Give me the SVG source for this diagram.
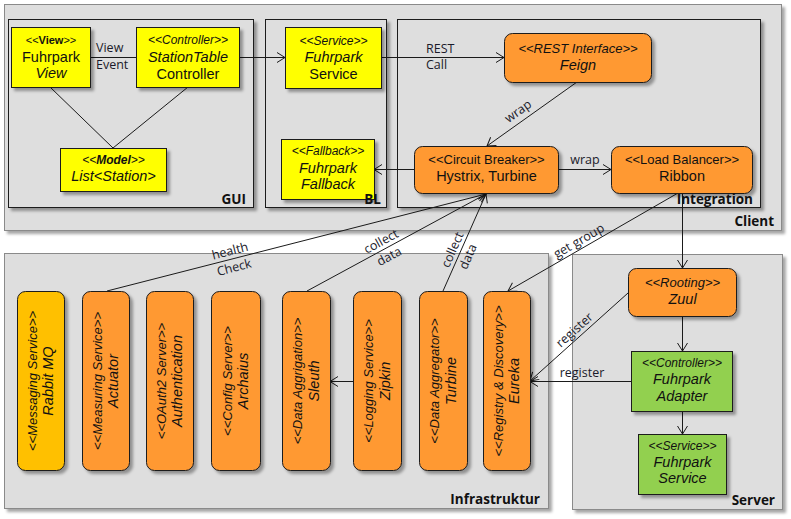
<svg xmlns="http://www.w3.org/2000/svg" width="791" height="519" viewBox="0 0 791 519">
<defs>
<filter id="sh" x="-10%" y="-10%" width="130%" height="130%">
<feDropShadow dx="3" dy="3" stdDeviation="1.5" flood-color="#000" flood-opacity="0.35"/>
</filter>
<marker id="arr" markerWidth="12" markerHeight="12" refX="9" refY="6" orient="auto" markerUnits="userSpaceOnUse">
<path d="M1,1 L9,6 L1,11" fill="none" stroke="#1a1a1a" stroke-width="1"/>
</marker>
<style>
.cont{fill:#dedede;stroke:#8a8a8a;stroke-width:1;filter:url(#sh)}
.inner{fill:#dedede;stroke:#1a1a1a;stroke-width:1;filter:url(#sh)}
.y{fill:#ffff00;stroke:#1a1a1a;stroke-width:1;filter:url(#sh)}
.o{fill:#ff9933;stroke:#1a1a1a;stroke-width:1;filter:url(#sh)}
.gd{fill:#ffc000;stroke:#1a1a1a;stroke-width:1;filter:url(#sh)}
.g{fill:#92d050;stroke:#1a1a1a;stroke-width:1;filter:url(#sh)}
text{font-family:"Liberation Sans",Arial,sans-serif;fill:#111;text-anchor:middle}
.st{font-size:12px;font-style:italic}
.st13{font-size:13px}
.nm{font-size:14.5px}
.i{font-style:italic}
.lbl{font-family:"Open Sans",sans-serif;font-size:12.5px;fill:#1a1a2a}
.ct{font-family:"Open Sans",sans-serif;font-size:13.5px;font-weight:bold;text-anchor:end}
.ln{stroke:#1a1a1a;stroke-width:1;fill:none}
.a{marker-end:url(#arr)}
</style>
</defs>

<!-- containers -->
<g id="client">
<rect class="cont" x="4.5" y="4.5" width="777" height="226"/>
</g>
<g id="gui">
<rect class="inner" x="8.5" y="19.5" width="245" height="188"/>
</g>
<g id="bl">
<rect class="inner" x="265.5" y="19.5" width="121" height="188"/>
</g>
<g id="integration">
<rect class="inner" x="397.5" y="19.5" width="363" height="188"/>
</g>
<g id="infrastruktur">
<rect class="cont" x="4.5" y="253.5" width="544" height="255"/>
</g>
<g id="server">
<rect class="cont" x="572.5" y="254.5" width="210" height="255"/>
</g>

<!-- connectors -->
<g id="connectors">
<line class="ln" x1="90" y1="57.5" x2="136" y2="57.5"/>
<line class="ln" x1="50" y1="87" x2="113" y2="148"/>
<line class="ln" x1="188" y1="87" x2="113" y2="148"/>
<line class="ln a" x1="239" y1="57.5" x2="285" y2="57.5"/>
<line class="ln a" x1="381" y1="57.5" x2="504" y2="57.5"/>
<line class="ln a" x1="577" y1="82" x2="487" y2="146"/>
<line class="ln a" x1="558" y1="169.5" x2="611" y2="169.5"/>
<line class="ln a" x1="414" y1="169.5" x2="374" y2="169.5"/>
<line class="ln a" x1="682.5" y1="193" x2="682.5" y2="268"/>
<line class="ln a" x1="678" y1="193" x2="508" y2="291"/>
<line class="ln a" x1="682.5" y1="316" x2="682.5" y2="351"/>
<line class="ln a" x1="682.5" y1="411" x2="682.5" y2="434"/>
<line class="ln a" x1="628" y1="293" x2="530" y2="381"/>
<line class="ln a" x1="631" y1="381.5" x2="530" y2="381.5"/>
<line class="ln a" x1="107" y1="291" x2="486" y2="194"/>
<line class="ln a" x1="307" y1="291" x2="486" y2="194"/>
<line class="ln a" x1="443" y1="291" x2="486" y2="194"/>
<line class="ln a" x1="353" y1="381.5" x2="330" y2="381.5"/>

<text class="lbl" x="96" y="52" style="text-anchor:start">View</text>
<text class="lbl" x="96" y="69" style="text-anchor:start">Event</text>
<text class="lbl" x="426" y="53" style="text-anchor:start">REST</text>
<text class="lbl" x="426" y="69" style="text-anchor:start">Call</text>
<text class="lbl" transform="translate(524,119.6) rotate(-35.4)" x="0" y="-6">wrap</text>
<text class="lbl" x="585" y="164">wrap</text>
<g transform="translate(232,259) rotate(-14.4)">
<text class="lbl" x="0" y="-4">health</text>
<text class="lbl" x="0" y="13">Check</text>
</g>
<g transform="translate(385,248.7) rotate(-28.5)">
<text class="lbl" x="0" y="-4">collect</text>
<text class="lbl" x="0" y="13">data</text>
</g>
<g transform="translate(460,253) rotate(-66.1)">
<text class="lbl" x="0" y="-4">collect</text>
<text class="lbl" x="0" y="13">data</text>
</g>
<text class="lbl" transform="translate(583,248) rotate(-30)" x="0" y="-4">get group</text>
<text class="lbl" transform="translate(580,336) rotate(-41.9)" x="0" y="-4">register</text>
<text class="lbl" x="582" y="377">register</text>
</g>

<!-- GUI nodes -->
<g id="fuhrparkView">
<rect class="y" x="11.5" y="27.5" width="79" height="60"/>
<text x="51" y="44" style="font-size:11px">&lt;&lt;<tspan font-weight="bold">View</tspan>&gt;&gt;</text>
<text class="nm" x="51" y="61.5">Fuhrpark</text>
<text class="nm i" x="51" y="78">View</text>
</g>
<g id="stationTableController">
<rect class="y" x="136.5" y="27.5" width="103" height="60"/>
<text class="st" x="188" y="44">&lt;&lt;Controller&gt;&gt;</text>
<text class="nm i" x="188" y="62">StationTable</text>
<text class="nm" x="188" y="78.5">Controller</text>
</g>
<g id="model">
<rect class="y" x="60.5" y="148.5" width="106" height="43"/>
<text class="st" x="113.5" y="164">&lt;&lt;<tspan font-weight="bold">Model</tspan>&gt;&gt;</text>
<text class="nm i" x="113.5" y="181">List&lt;Station&gt;</text>
</g>

<!-- BL nodes -->
<g id="fuhrparkService">
<rect class="y" x="285.5" y="27.5" width="96" height="61"/>
<text class="st" x="333.5" y="44.5">&lt;&lt;Service&gt;&gt;</text>
<text class="nm i" x="333.5" y="62">Fuhrpark</text>
<text class="nm" x="333.5" y="79">Service</text>
</g>
<g id="fuhrparkFallback">
<rect class="y" x="281.5" y="139.5" width="93" height="60"/>
<text class="st" x="328" y="155">&lt;&lt;Fallback&gt;&gt;</text>
<text class="nm i" x="328" y="172.5">Fuhrpark</text>
<text class="nm i" x="328" y="189">Fallback</text>
</g>

<!-- Integration nodes -->
<g id="feign">
<rect class="o" x="504.5" y="33.5" width="147" height="49" rx="8"/>
<text class="st13 i" x="578" y="53">&lt;&lt;REST Interface&gt;&gt;</text>
<text class="nm i" x="578" y="70">Feign</text>
</g>
<g id="hystrix">
<rect class="o" x="414.5" y="146.5" width="144" height="47" rx="8"/>
<text class="st13" x="486.5" y="164">&lt;&lt;Circuit Breaker&gt;&gt;</text>
<text class="nm" x="486.5" y="180.5">Hystrix, Turbine</text>
</g>
<g id="ribbon">
<rect class="o" x="611.5" y="146.5" width="141" height="47" rx="8"/>
<text class="st13" x="682" y="164">&lt;&lt;Load Balancer&gt;&gt;</text>
<text class="nm" x="682" y="180.5">Ribbon</text>
</g>

<!-- Server nodes -->
<g id="zuul">
<rect class="o" x="628.5" y="268.5" width="108" height="48" rx="8"/>
<text class="st13 i" x="682.5" y="286.5">&lt;&lt;Rooting&gt;&gt;</text>
<text class="nm i" x="682.5" y="304">Zuul</text>
</g>
<g id="fuhrparkAdapter">
<rect class="g" x="631.5" y="351.5" width="101" height="60"/>
<text class="st" x="682" y="366.5">&lt;&lt;Controller&gt;&gt;</text>
<text class="nm i" x="682" y="384">Fuhrpark</text>
<text class="nm i" x="682" y="400.5">Adapter</text>
</g>
<g id="serverFuhrparkService">
<rect class="g" x="638.5" y="434.5" width="88" height="60"/>
<text class="st" x="682.5" y="450">&lt;&lt;Service&gt;&gt;</text>
<text class="nm i" x="682.5" y="466.5">Fuhrpark</text>
<text class="nm i" x="682.5" y="483">Service</text>
</g>

<!-- Infrastruktur nodes -->
<g id="rabbitMQ">
<rect class="gd" x="17.5" y="291.5" width="47" height="179" rx="8"/>
<g transform="translate(41,381) rotate(-90)">
<text class="st13 i" x="0" y="-4.5">&lt;&lt;Messaging Service&gt;&gt;</text>
<text class="nm i" x="0" y="12">Rabbit MQ</text>
</g>
</g>
<g id="actuator">
<rect class="o" x="82.5" y="291.5" width="47" height="179" rx="8"/>
<g transform="translate(106,381) rotate(-90)">
<text class="st13 i" x="0" y="-4.5">&lt;&lt;Measuring Service&gt;&gt;</text>
<text class="nm i" x="0" y="12">Actuator</text>
</g>
</g>
<g id="authentication">
<rect class="o" x="146.5" y="291.5" width="47" height="179" rx="8"/>
<g transform="translate(170,381) rotate(-90)">
<text class="st13 i" x="0" y="-4.5">&lt;&lt;OAuth2 Server&gt;&gt;</text>
<text class="nm i" x="0" y="12">Authentication</text>
</g>
</g>
<g id="archaius">
<rect class="o" x="211.5" y="291.5" width="49" height="179" rx="8"/>
<g transform="translate(236,381) rotate(-90)">
<text class="st13 i" x="0" y="-4.5">&lt;&lt;Config Server&gt;&gt;</text>
<text class="nm i" x="0" y="12">Archaius</text>
</g>
</g>
<g id="sleuth">
<rect class="o" x="282.5" y="291.5" width="48" height="179" rx="8"/>
<g transform="translate(306.5,381) rotate(-90)">
<text class="st13 i" x="0" y="-4.5">&lt;&lt;Data Aggrigation&gt;&gt;</text>
<text class="nm i" x="0" y="12">Sleuth</text>
</g>
</g>
<g id="zipkin">
<rect class="o" x="353.5" y="291.5" width="48" height="179" rx="8"/>
<g transform="translate(377.5,381) rotate(-90)">
<text class="st13 i" x="0" y="-4.5">&lt;&lt;Logging Service&gt;&gt;</text>
<text class="nm i" x="0" y="12">Zipkin</text>
</g>
</g>
<g id="turbine">
<rect class="o" x="419.5" y="291.5" width="48" height="179" rx="8"/>
<g transform="translate(443.5,381) rotate(-90)">
<text class="st13 i" x="0" y="-4.5">&lt;&lt;Data Aggregator&gt;&gt;</text>
<text class="nm i" x="0" y="12">Turbine</text>
</g>
</g>
<g id="eureka">
<rect class="o" x="483.5" y="291.5" width="47" height="179" rx="8"/>
<g transform="translate(507,381) rotate(-90)">
<text class="st13 i" x="0" y="-4.5">&lt;&lt;Registry &amp; Discovery&gt;&gt;</text>
<text class="nm i" x="0" y="12">Eureka</text>
</g>
</g>

<!-- container labels -->
<g id="containerLabels">
<text class="ct" x="774" y="226">Client</text>
<text class="ct" x="246" y="204">GUI</text>
<text class="ct" x="381" y="204">BL</text>
<text class="ct" x="753" y="204">Integration</text>
<text class="ct" x="540" y="504">Infrastruktur</text>
<text class="ct" x="775" y="505">Server</text>
</g>
</svg>
